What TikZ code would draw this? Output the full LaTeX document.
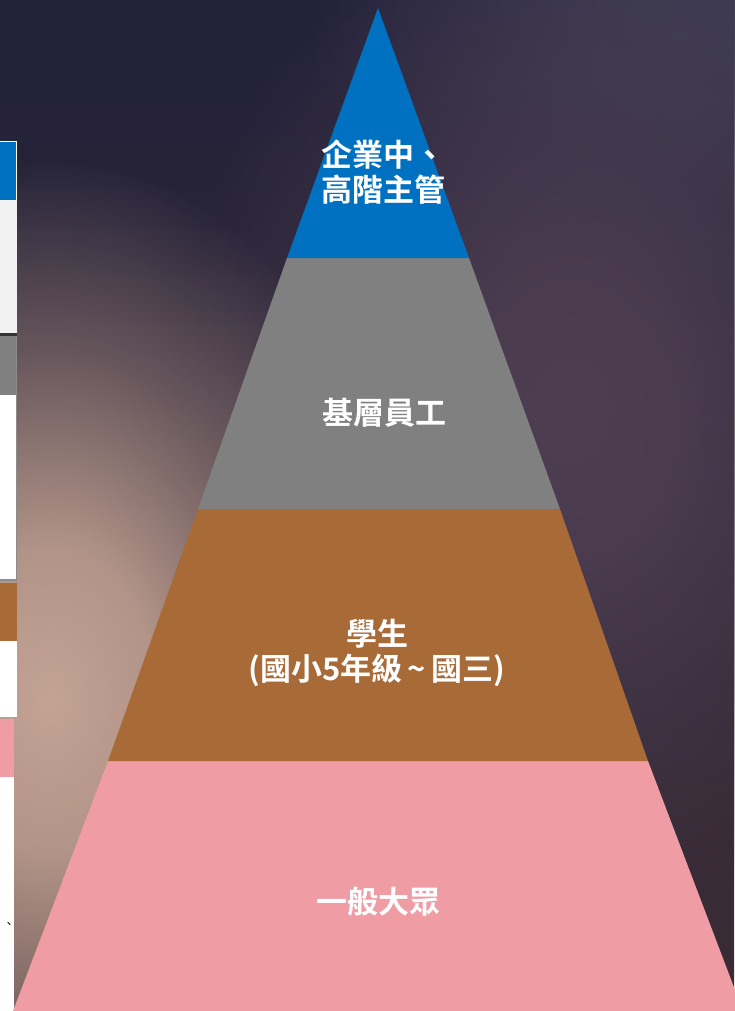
\documentclass[tikz,border=0pt]{standalone}
\usepackage{fontspec}
\newfontfamily\cjk{Noto Sans CJK TC}[BoldFont={* Bold}]
\usetikzlibrary{fadings}

\definecolor{bgnavy}{HTML}{22213A}
\definecolor{bgplum}{HTML}{3A2C34}
\definecolor{glowbeige}{HTML}{C4A394}
\definecolor{glowplum}{HTML}{4E3E52}
\definecolor{glowslate}{HTML}{3C3B52}
\definecolor{topblue}{HTML}{0070C0}
\definecolor{midgrey}{HTML}{808080}
\definecolor{stubrown}{HTML}{A86A37}
\definecolor{basepink}{HTML}{EF9CA4}
\definecolor{cellgrey}{HTML}{F2F2F2}

% soft radial glow, flat in the middle
\pgfdeclareradialshading{softglowshade}{\pgfpointorigin}{color(0bp)=(white); color(7bp)=(white!88!black); color(16bp)=(white!40!black); color(25bp)=(black); color(50bp)=(black)}
\pgfdeclarefading{softglow}{\pgfuseshading{softglowshade}}

\tikzset{
	layer label/.style={text=white, font=\cjk\bfseries\fontsize{31}{35}\selectfont, align=center, inner sep=0},
}

\begin{document}
\begin{tikzpicture}[x=1pt,y=-1pt]
	\useasboundingbox (0,0) rectangle (734,1011);
	% background
	\shade[top color=bgnavy, bottom color=bgplum] (0,0) rectangle (734,1011);
	\fill[glowslate, path fading=softglow] (700,20) ellipse [x radius=400, y radius=280];
	\fill[glowplum, path fading=softglow] (570,410) ellipse [x radius=400, y radius=520];
	\fill[glowbeige, path fading=softglow] (50,700) ellipse [x radius=380, y radius=540];
	% cut table at the left
	\fill[topblue] (0,141) rectangle (17,200);
	\draw[white, line width=1.2] (0,141.5) -- (16.5,141.5) -- (16.5,200);
	\fill[cellgrey] (0,200) rectangle (17,333);
	\fill[black!80] (0,333) rectangle (17,336);
	\fill[midgrey] (0,336) rectangle (17,395);
	\fill[white] (0,395) rectangle (16,580);
	\draw[black!45, line width=1.2] (16.5,336) -- (16.5,580) -- (0,580);
	\fill[stubrown] (0,583) rectangle (17,641);
	\fill[white] (0,641) rectangle (17,717);
	\fill[basepink] (0,719) rectangle (14,777);
	\fill[white] (0,777) rectangle (14,1011);
	\node[font=\cjk\fontsize{12}{12}\selectfont, inner sep=0] (mark) at (9,925) {、};
	% pyramid
	\coordinate (apex) at (378,8);
	\fill[basepink] (108,761) -- (648,761) -- (743,1011) -- (13,1011) -- cycle;
	\fill[stubrown] (198,509) -- (560,509) -- (648,761) -- (108,761) -- cycle;
	\fill[midgrey] (287,258) -- (469,258) -- (560,509) -- (198,509) -- cycle;
	\fill[topblue] (apex) -- (469,258) -- (287,258) -- cycle;
	% labels
	\node[layer label] (top) at (383,172) {企業中、\\高階主管};
	\node[layer label] (staff) at (384,413) {基層員工};
	\node[layer label] (student) at (377,653) {學生\\(國小5年級\,\textasciitilde\,國三)};
	\node[layer label] (public) at (378,902) {一般大眾};
\end{tikzpicture}
\end{document}
